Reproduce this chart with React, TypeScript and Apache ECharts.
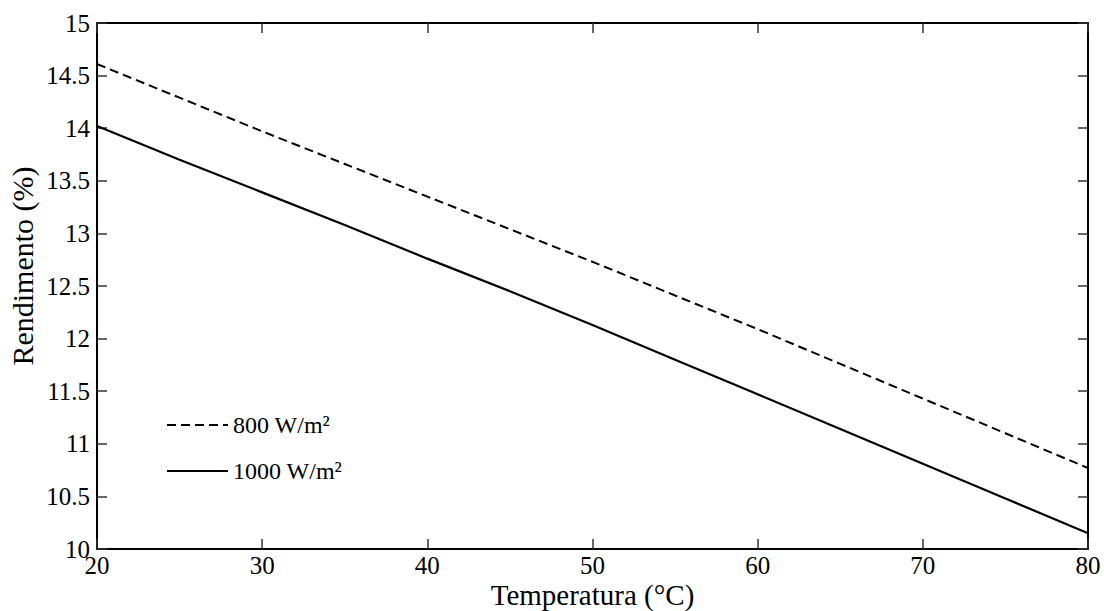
import React, { useEffect, useRef } from "react";
import * as echarts from "echarts";

const temperatures = [20, 25, 30, 35, 40, 45, 50, 55, 60, 65, 70, 75, 80];
const series800 = [14.61, 14.29, 13.97, 13.66, 13.35, 13.04, 12.73, 12.41, 12.09, 11.76, 11.43, 11.1, 10.77];
const series1000 = [14.02, 13.7, 13.39, 13.08, 12.76, 12.45, 12.13, 11.8, 11.47, 11.14, 10.81, 10.48, 10.15];
const seriesNames = ["800 W/m²", "1000 W/m²"];
const xTitle = "Temperatura (°C)";
const yTitle = "Rendimento (%)";

const FONT = "'Liberation Serif', 'Times New Roman', serif";

export default function App() {
  const ref = useRef<HTMLDivElement>(null);
  useEffect(() => {
    if (!ref.current) return;
    const chart = echarts.init(ref.current, undefined, { renderer: "svg" });
    const axisLine = { show: true, lineStyle: { color: "#000", width: 2 } };
    const axisTick = { show: true, inside: true, length: 10, lineStyle: { color: "#333", width: 1.5 } };
    chart.setOption({
      animation: false,
      backgroundColor: "#fff",
      grid: { left: 97, right: 16, top: 23, bottom: 62, containLabel: false, outerBoundsMode: "none" },
      legend: {
        orient: "vertical",
        left: 161,
        top: 408,
        itemWidth: 61,
        itemHeight: 14,
        itemGap: 22,
        itemStyle: { opacity: 0 },
        textStyle: { fontFamily: FONT, fontSize: 24, color: "#000" },
        data: seriesNames,
      },
      xAxis: [
        {
          type: "value",
          min: 20,
          max: 80,
          interval: 10,
          name: xTitle,
          nameLocation: "middle",
          nameMoveOverlap: false,
          nameGap: 31,
          nameTextStyle: { fontFamily: FONT, fontSize: 29, color: "#000", lineHeight: 30 },
          axisLine,
          axisTick,
          splitLine: { show: false },
          axisLabel: { fontFamily: FONT, fontSize: 25, color: "#000", margin: 4 },
        },
        {
          type: "value",
          position: "top",
          min: 20,
          max: 80,
          interval: 10,
          axisLine,
          axisTick,
          splitLine: { show: false },
          axisLabel: { show: false },
        },
      ],
      yAxis: [
        {
          type: "value",
          min: 10,
          max: 15,
          interval: 0.5,
          name: yTitle,
          nameLocation: "middle",
          nameMoveOverlap: false,
          nameGap: 60,
          nameTextStyle: { fontFamily: FONT, fontSize: 30, color: "#000", padding: [0, 0, 0, 40] },
          axisLine,
          axisTick,
          splitLine: { show: false },
          axisLabel: { fontFamily: FONT, fontSize: 25, color: "#000", margin: 7 },
        },
        {
          type: "value",
          position: "right",
          min: 10,
          max: 15,
          interval: 0.5,
          axisLine,
          axisTick,
          splitLine: { show: false },
          axisLabel: { show: false },
        },
      ],
      series: [
        {
          name: seriesNames[0],
          type: "line",
          symbol: "none",
          data: temperatures.map((t, i) => [t, series800[i]]),
          lineStyle: { color: "#000", width: 2, type: [9, 5] },
          itemStyle: { color: "#000" },
        },
        {
          name: seriesNames[1],
          type: "line",
          symbol: "none",
          data: temperatures.map((t, i) => [t, series1000[i]]),
          lineStyle: { color: "#000", width: 2.2, type: "solid" },
          itemStyle: { color: "#000" },
        },
      ],
    });
    return () => chart.dispose();
  }, []);
  return <div ref={ref} style={{ width: 1104, height: 611, position: "absolute", left: 0, top: 0 }} />;
}
